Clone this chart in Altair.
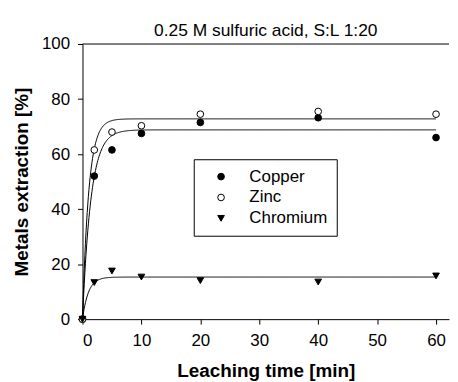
import altair as alt
import pandas as pd

time_min = [0, 2, 5, 10, 20, 40, 60]
copper = [0, 52.0, 61.5, 67.5, 71.5, 73.2, 66.0]
zinc = [0, 61.5, 68.0, 70.3, 74.5, 75.5, 74.5]
chromium = [0, 13.3, 17.5, 15.3, 14.0, 13.5, 15.7]

metals = ["Copper", "Zinc", "Chromium"]
# Fitted first-order kinetic curves  y = plateau * (1 - exp(-rate * t))
fit_plateau = [68.8, 72.8, 15.3]
fit_rate = [0.70, 0.95, 1.00]

x_ticks = [0, 10, 20, 30, 40, 50, 60]
y_ticks = [0, 20, 40, 60, 80, 100]

rows = []
for name, vals in zip(metals, [copper, zinc, chromium]):
    for t, v in zip(time_min, vals):
        rows.append({"t": t, "v": v, "metal": name})
pts = pd.DataFrame(rows)

W, H = 369, 277
xscale = alt.Scale(domain=[0, 62.2], nice=False, zero=False)
yscale = alt.Scale(domain=[0, 100], nice=False)

FONT = "Liberation Sans"
xaxis = alt.Axis(values=x_ticks, title="Leaching time [min]", grid=False,
                 labelFontSize=17, titleFontSize=19, titleFontWeight="bold",
                 tickSize=5, labelPadding=9, titlePadding=13,
                 domainColor="black", tickColor="black", labelColor="black",
                 titleColor="black", labelFont=FONT, titleFont=FONT)
yaxis = alt.Axis(values=y_ticks, title="Metals extraction [%]", grid=False,
                 labelFontSize=17, titleFontSize=19, titleFontWeight="bold",
                 tickSize=5, labelPadding=8, titlePadding=10,
                 domainColor="black", tickColor="black", labelColor="black",
                 titleColor="black", labelFont=FONT, titleFont=FONT)

curves = []
for name, a, b in zip(metals, fit_plateau, fit_rate):
    c = alt.Chart(alt.sequence(0, 60.01, 0.1, as_="t")).transform_calculate(
        y=f"{a} * (1 - exp(-{b} * datum.t))"
    ).mark_line(color="black", strokeWidth=1).encode(
        x=alt.X("t:Q", scale=xscale, axis=xaxis),
        y=alt.Y("y:Q", scale=yscale, axis=yaxis),
    )
    curves.append(c)

# top frame line of the plot area (no right border, as in the original)
top_frame = alt.Chart(pd.DataFrame({"k": [0]})).mark_rule(
    color="black", strokeWidth=1).encode(
    x=alt.value(0), x2=alt.value(W), y=alt.value(0))

points = alt.Chart(pts).mark_point(filled=True, strokeWidth=1,
                                   opacity=1, size=45).encode(
    x=alt.X("t:Q", scale=xscale, axis=xaxis),
    y=alt.Y("v:Q", scale=yscale, axis=yaxis),
    shape=alt.Shape("metal:N", scale=alt.Scale(domain=metals,
                    range=["circle", "circle", "triangle-down"]),
                    legend=alt.Legend(title=None)),
    fill=alt.Fill("metal:N", scale=alt.Scale(domain=metals,
                  range=["black", "white", "black"]),
                  legend=alt.Legend(title=None)),
    stroke=alt.Stroke("metal:N", scale=alt.Scale(domain=metals,
                      range=["black", "black", "black"]),
                      legend=alt.Legend(title=None)),
)

chart = alt.layer(*curves, top_frame, points).properties(
    width=W, height=H,
    title=alt.TitleParams("0.25 M sulfuric acid, S:L 1:20", fontSize=17.5,
                          font=FONT, fontWeight="normal",
                          anchor="middle", frame="group",
                          offset=-4, color="black"),
    padding={"left": 4, "top": 12, "right": 0, "bottom": 0},
).configure_view(strokeOpacity=0).configure_legend(
    orient="none", legendX=112, legendY=116,
    padding=9, strokeColor="black", fillColor="white",
    labelFontSize=17, labelFont=FONT, labelColor="black",
    labelOffset=20, symbolOffset=10, rowPadding=3,
    symbolStrokeWidth=1, symbolSize=45,
    cornerRadius=0,
)

chart.save("out.html", embed_options={"renderer": "svg", "actions": False})
